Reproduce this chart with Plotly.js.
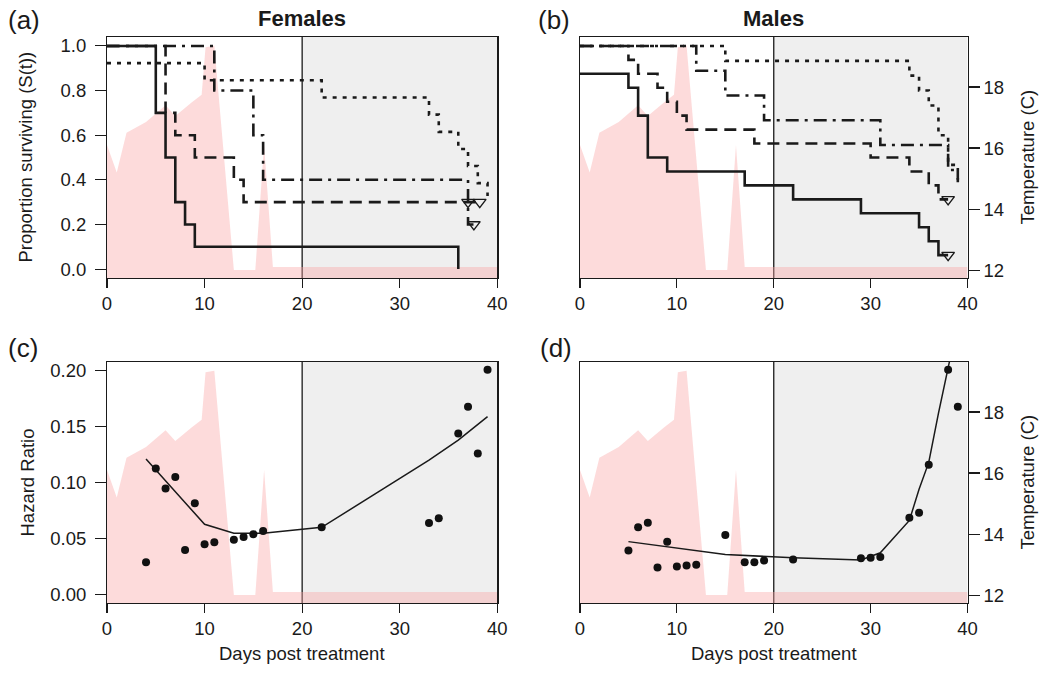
<!DOCTYPE html>
<html>
<head>
<meta charset="utf-8">
<script src="https://cdn.plot.ly/plotly-3.0.1.min.js"></script>
<style>html,body{margin:0;padding:0;background:#fff;}#chart{width:1044px;height:674px;}</style>
</head>
<body>
<div id="chart"></div>
<script>
// ---------- data ----------
const tempDays = [0, 1, 2, 4, 6, 7, 8.7, 9.7, 10.1, 11, 13, 15.2, 16.1, 17, 40];
const tempC    = [16.1, 15.2, 16.5, 16.85, 17.4, 17.05, 17.5, 17.75, 19.3, 19.35, 12.0, 12.0, 16.1, 12.1, 12.1];

// Females survival (step curves)
const fSolidT   = [0, 5, 6, 7, 8, 9, 36];
const fSolidS   = [1, 0.7, 0.5, 0.3, 0.2, 0.1, 0];
const fDashT    = [0, 6, 7, 9, 13, 14, 38.2];
const fDashS    = [1, 0.7, 0.6, 0.5, 0.4, 0.3, 0.3];
const fDashDotT = [0, 11, 15, 16, 37, 37.6];
const fDashDotS = [1, 0.8, 0.6, 0.4, 0.2, 0.2];
const fDotT     = [0, 10, 22, 33, 34, 36, 37, 38, 39];
const fDotS     = [0.923, 0.846, 0.769, 0.692, 0.615, 0.538, 0.462, 0.385, 0.327];
const fCensorT  = [37, 38.2, 37.6];
const fCensorS  = [0.3, 0.3, 0.2];

// Males survival
const mSolidT   = [0, 5, 6, 7, 9, 17, 22, 29, 35, 36, 37, 38];
const mSolidS   = [0.875, 0.8125, 0.6875, 0.5, 0.4375, 0.375, 0.3125, 0.25, 0.1875, 0.125, 0.0625, 0.0625];
const mDashT    = [0, 5, 6, 8, 9, 10, 11, 18, 30, 34, 36, 37, 38];
const mDashS    = [1, 0.9375, 0.875, 0.8125, 0.75, 0.6875, 0.625, 0.5625, 0.5, 0.4375, 0.375, 0.3125, 0.3125];
const mDashDotT = [0, 12, 15, 19, 31, 38, 39];
const mDashDotS = [1, 0.889, 0.778, 0.667, 0.556, 0.444, 0.389];
const mDotT     = [0, 15, 34, 35, 36, 37, 38, 39];
const mDotS     = [1, 0.933, 0.867, 0.8, 0.733, 0.6, 0.467, 0.4];
const mCensorT  = [38, 38];
const mCensorS  = [0.3125, 0.0625];

// Hazard ratios (c) females
const cDays = [4, 5, 6, 7, 8, 9, 10, 11, 13, 14, 15, 16, 22, 33, 34, 36, 37, 38, 39];
const cHR   = [0.0286, 0.1125, 0.0946, 0.105, 0.0396, 0.0815, 0.0446, 0.0464, 0.0488, 0.0512, 0.0536, 0.0565, 0.0598, 0.0637, 0.0679, 0.144, 0.168, 0.126, 0.201];
const cFitDays = [4, 10, 13, 16, 22, 33, 36, 39];
const cFitHR   = [0.121, 0.0625, 0.0545, 0.0545, 0.0598, 0.120, 0.138, 0.159];

// Hazard ratios (d) males
const dDays = [5, 6, 7, 8, 9, 10, 11, 12, 15, 17, 18, 19, 22, 29, 30, 31, 34, 35, 36, 38, 39];
const dHR   = [0.039, 0.0598, 0.064, 0.0238, 0.047, 0.0247, 0.0256, 0.0262, 0.053, 0.0286, 0.0286, 0.030, 0.031, 0.032, 0.0326, 0.0333, 0.0685, 0.073, 0.116, 0.201, 0.168];
const dFitDays = [5, 15, 22, 29, 31, 34, 35, 36, 37, 38, 38.3];
const dFitHR   = [0.047, 0.0355, 0.0325, 0.0305, 0.037, 0.066, 0.094, 0.118, 0.162, 0.205, 0.215];

const xTicks = [0, 10, 20, 30, 40];
const sTicks = [0, 0.2, 0.4, 0.6, 0.8, 1.0];
const sTickText = ['0.0', '0.2', '0.4', '0.6', '0.8', '1.0'];
const hTicks = [0, 0.05, 0.10, 0.15, 0.20];
const hTickText = ['0.00', '0.05', '0.10', '0.15', '0.20'];
const tTicks = [12, 14, 16, 18];

// ---------- styling ----------
const FONT = 'Liberation Sans, Arial, Helvetica, sans-serif';
const INK = '#1a1a1a';
const W = 1044, H = 674;
const px = v => v / W, py = v => 1 - v / H;

const xDomL = [px(107), px(497.3)];
const xDomR = [px(580), px(967.5)];
const yDomT = [py(278), py(37)];
const yDomB = [py(603), py(362)];

const tempRange = [11.74, 19.64];
const sRange = [-0.04, 1.04];
const hRange = [-0.008, 0.208];

const DASH = '12px,7px';
const DASHDOT = '13px,6px,3px,6px';
const DOT = '4px,6px';

function tempTrace(xa, ya) {
  return {x: tempDays, y: tempC, xaxis: xa, yaxis: ya, type: 'scatter', mode: 'lines',
    fill: 'tozeroy', fillcolor: 'rgba(250,165,165,0.40)', line: {width: 0, color: 'rgba(0,0,0,0)'},
    hoverinfo: 'skip', showlegend: false};
}
function step(t, s, xa, ya, dash, w) {
  return {x: t, y: s, xaxis: xa, yaxis: ya, type: 'scatter', mode: 'lines',
    line: {shape: 'hv', color: INK, width: w || 2.6, dash: dash}, showlegend: false, hoverinfo: 'skip'};
}
function censor(t, s, xa, ya) {
  return {x: t, y: s, xaxis: xa, yaxis: ya, type: 'scatter', mode: 'markers',
    marker: {symbol: 'triangle-down-open', size: 11, color: INK, line: {width: 1.4, color: INK}},
    showlegend: false, hoverinfo: 'skip'};
}
function pts(x, y, xa, ya) {
  return {x: x, y: y, xaxis: xa, yaxis: ya, type: 'scatter', mode: 'markers',
    marker: {symbol: 'circle', size: 8, color: '#111'}, showlegend: false, hoverinfo: 'skip'};
}
function fit(x, y, xa, ya) {
  return {x: x, y: y, xaxis: xa, yaxis: ya, type: 'scatter', mode: 'lines',
    line: {color: INK, width: 1.5}, showlegend: false, hoverinfo: 'skip'};
}

const data = [
  // (a)
  tempTrace('x', 'y'),
  step(fSolidT, fSolidS, 'x', 'y2', 'solid'),
  step(fDashT, fDashS, 'x', 'y2', DASH),
  step(fDashDotT, fDashDotS, 'x', 'y2', DASHDOT),
  step(fDotT, fDotS, 'x', 'y2', DOT),
  censor(fCensorT, fCensorS, 'x', 'y2'),
  // (b)
  tempTrace('x2', 'y3'),
  step(mSolidT, mSolidS, 'x2', 'y4', 'solid'),
  step(mDashT, mDashS, 'x2', 'y4', DASH),
  step(mDashDotT, mDashDotS, 'x2', 'y4', DASHDOT),
  step(mDotT, mDotS, 'x2', 'y4', DOT),
  censor(mCensorT, mCensorS, 'x2', 'y4'),
  // (c)
  tempTrace('x3', 'y5'),
  fit(cFitDays, cFitHR, 'x3', 'y6'),
  pts(cDays, cHR, 'x3', 'y6'),
  // (d)
  tempTrace('x4', 'y7'),
  fit(dFitDays, dFitHR, 'x4', 'y8'),
  pts(dDays, dHR, 'x4', 'y8')
];

const tickFont = {family: FONT, size: 18.5, color: INK};
function xAxis(dom, anchor) {
  return {domain: dom, anchor: anchor, range: [0, 40], tickvals: xTicks, ticks: 'outside', ticklen: 9,
    tickwidth: 1.1, tickcolor: INK, showline: true, mirror: true, linecolor: INK, linewidth: 1.2,
    showgrid: false, zeroline: false, tickfont: tickFont, fixedrange: true};
}
function tempAxis(dom, anchor, labels) {
  const a = {domain: dom, anchor: anchor, range: tempRange, side: 'right', showline: true, mirror: true,
    linecolor: INK, linewidth: 1.2, showgrid: false, zeroline: false, fixedrange: true};
  if (labels) {
    Object.assign(a, {tickvals: tTicks, ticks: 'outside', ticklen: 11, tickwidth: 1.1, tickcolor: INK,
      tickfont: tickFont, showticklabels: true});
  } else {
    Object.assign(a, {ticks: '', showticklabels: false});
  }
  return a;
}
function valAxis(over, anchor, range, vals, text, labels) {
  const a = {overlaying: over, anchor: anchor, range: range, side: 'left', showline: false,
    showgrid: false, zeroline: false, fixedrange: true};
  if (labels) {
    Object.assign(a, {tickvals: vals, ticktext: text, ticks: 'outside', ticklen: 11, tickwidth: 1.1,
      tickcolor: INK, tickfont: tickFont, showticklabels: true, ticklabelstandoff: 5});
  } else {
    Object.assign(a, {ticks: '', showticklabels: false});
  }
  return a;
}

function shade(xa, ya) {
  return [
    {type: 'rect', xref: xa, yref: ya + ' domain', x0: 20, x1: 40, y0: 0, y1: 1,
      fillcolor: '#efefef', line: {width: 0}, layer: 'below'},
    {type: 'line', xref: xa, yref: ya + ' domain', x0: 20, x1: 20, y0: 0, y1: 1,
      line: {color: INK, width: 1.3}, layer: 'below'}
  ];
}

function ann(text, x, y, size, opts) {
  return Object.assign({text: text, xref: 'paper', yref: 'paper', x: px(x), y: py(y), showarrow: false,
    font: {family: FONT, size: size, color: INK}, xanchor: 'center', yanchor: 'middle'}, opts || {});
}

const layout = {
  width: W, height: H, margin: {l: 0, r: 0, t: 0, b: 0},
  paper_bgcolor: '#fff', plot_bgcolor: '#fff', showlegend: false,
  xaxis: xAxis(xDomL, 'y'),
  yaxis: tempAxis(yDomT, 'x', false),
  yaxis2: valAxis('y', 'x', sRange, sTicks, sTickText, true),
  xaxis2: xAxis(xDomR, 'y3'),
  yaxis3: tempAxis(yDomT, 'x2', true),
  yaxis4: valAxis('y3', 'x2', sRange, sTicks, sTickText, false),
  xaxis3: xAxis(xDomL, 'y5'),
  yaxis5: tempAxis(yDomB, 'x3', false),
  yaxis6: valAxis('y5', 'x3', hRange, hTicks, hTickText, true),
  xaxis4: xAxis(xDomR, 'y7'),
  yaxis7: tempAxis(yDomB, 'x4', true),
  yaxis8: valAxis('y7', 'x4', hRange, hTicks, hTickText, false),
  shapes: [].concat(shade('x', 'y'), shade('x2', 'y3'), shade('x3', 'y5'), shade('x4', 'y7')),
  annotations: [
    ann('(a)', 6, 20, 26, {xanchor: 'left'}),
    ann('(b)', 536, 20, 26, {xanchor: 'left'}),
    ann('(c)', 6, 348, 26, {xanchor: 'left'}),
    ann('(d)', 538, 348, 26, {xanchor: 'left'}),
    ann('<b>Females</b>', 302, 18, 22),
    ann('<b>Males</b>', 773.7, 18, 22),
    ann('Proportion surviving (S(t))', 25, 157.5, 18.5, {textangle: -90}),
    ann('Hazard Ratio', 27, 482.5, 18.5, {textangle: -90}),
    ann('Temperature (C)', 1027, 157.5, 18.5, {textangle: -90}),
    ann('Temperature (C)', 1027, 482.5, 18.5, {textangle: -90}),
    ann('Days post treatment', 302, 653, 18.5),
    ann('Days post treatment', 773.7, 653, 18.5)
  ]
};

Plotly.newPlot('chart', data, layout, {staticPlot: true, displayModeBar: false});
</script>
</body>
</html>
